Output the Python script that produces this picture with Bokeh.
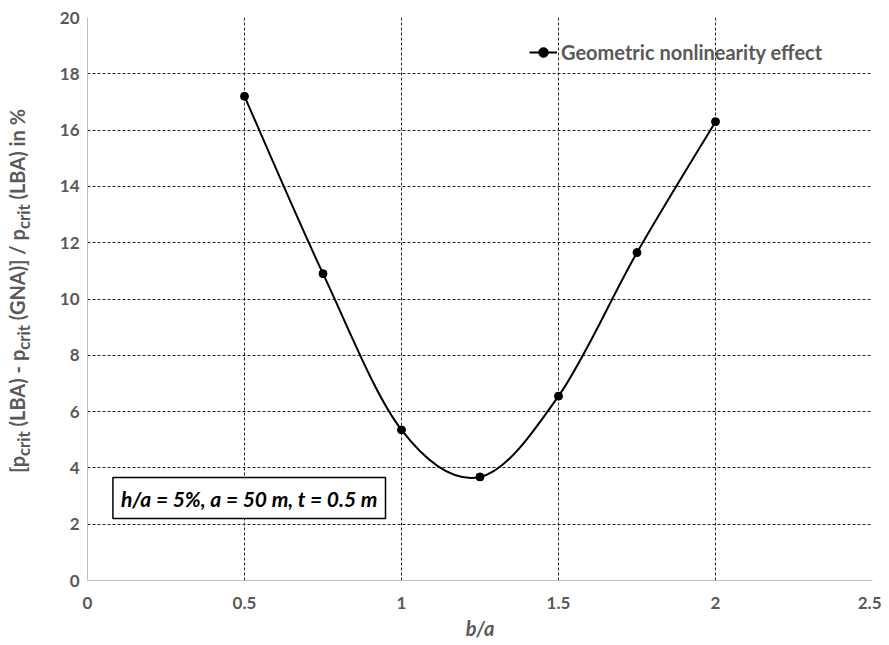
import numpy as np
from bokeh.plotting import figure
from bokeh.layouts import row
from bokeh.models import Range1d, FixedTicker, Label, Legend, LegendItem, ColumnDataSource, Div
from bokeh.embed import file_html
from bokeh.resources import INLINE

# ---- data ----
ratio = [0.5, 0.75, 1.0, 1.25, 1.5, 1.75, 2.0]
effect = [17.2, 10.9, 5.35, 3.68, 6.55, 11.65, 16.3]
x_ticks = [0, 0.5, 1, 1.5, 2, 2.5]
y_ticks = [0, 2, 4, 6, 8, 10, 12, 14, 16, 18, 20]
series_name = "Geometric nonlinearity effect"
note_text = "h/a = 5%, a = 50 m, t = 0.5 m"
x_title = "b/a"
y_title_html = "[p<sub>crit</sub> (LBA) - p<sub>crit</sub> (GNA)] / p<sub>crit</sub> (LBA) in %"

FONT = "Lato"
GRAY = "#595959"

DIV_W = 56
p = figure(width=825, height=645, output_backend="svg", toolbar_location=None,
           x_range=Range1d(0, 2.5), y_range=Range1d(0, 20),
           min_border_left=30, min_border_right=9, min_border_top=17, min_border_bottom=65)
p.outline_line_color = None
p.background_fill_color = "white"

for ax in (p.xaxis[0], p.yaxis[0]):
    ax.axis_line_color = "#bfbfbf"
    ax.axis_line_width = 1
    ax.major_tick_line_color = None
    ax.minor_tick_line_color = None
    ax.major_tick_out = 0
    ax.major_tick_in = 0
    ax.minor_tick_out = 0
    ax.major_label_text_font = FONT
    ax.major_label_text_font_style = "bold"
    ax.major_label_text_font_size = "17px"
    ax.major_label_text_color = GRAY

p.xaxis.ticker = FixedTicker(ticks=x_ticks)
p.yaxis.ticker = FixedTicker(ticks=y_ticks)
p.xaxis.major_label_standoff = 16
p.yaxis.major_label_standoff = 8
p.xaxis.major_label_overrides = {0: "0", 0.5: "0.5", 1: "1", 1.5: "1.5", 2: "2", 2.5: "2.5"}

p.xaxis.axis_label = x_title
p.xaxis.axis_label_text_font = FONT
p.xaxis.axis_label_text_font_style = "bold italic"
p.xaxis.axis_label_text_font_size = "20px"
p.xaxis.axis_label_text_color = GRAY
p.xaxis.axis_label_standoff = 4

for g in (p.xgrid[0], p.ygrid[0]):
    g.grid_line_color = "#262626"
    g.grid_line_dash = "3 2"
    g.grid_line_width = 1
p.xgrid.ticker = FixedTicker(ticks=x_ticks)
p.ygrid.ticker = FixedTicker(ticks=y_ticks)

# ---- smoothed curve (Excel-style cubic Bezier through the points) ----
xs = np.array(ratio, dtype=float)
ys = np.array(effect, dtype=float)
pxs = np.concatenate([[xs[0]], xs, [xs[-1]]])
pys = np.concatenate([[ys[0]], ys, [ys[-1]]])
n = len(xs)
seg = dict(x0=[], y0=[], x1=[], y1=[], cx0=[], cy0=[], cx1=[], cy1=[])
for i in range(n - 1):
    j = i + 1
    seg["x0"].append(pxs[j]); seg["y0"].append(pys[j])
    seg["x1"].append(pxs[j + 1]); seg["y1"].append(pys[j + 1])
    seg["cx0"].append(pxs[j] + (pxs[j + 1] - pxs[j - 1]) / 6)
    seg["cy0"].append(pys[j] + (pys[j + 1] - pys[j - 1]) / 6)
    seg["cx1"].append(pxs[j + 1] - (pxs[j + 2] - pxs[j]) / 6)
    seg["cy1"].append(pys[j + 1] - (pys[j + 2] - pys[j]) / 6)
bez = p.bezier(x0="x0", y0="y0", x1="x1", y1="y1", cx0="cx0", cy0="cy0", cx1="cx1", cy1="cy1",
               source=ColumnDataSource(seg), line_color="black", line_width=2)
dots = p.scatter(ratio, effect, size=8, fill_color="black", line_color="black")

legend = Legend(items=[LegendItem(label=series_name, renderers=[bez, dots])],
                location=(442, 516))
legend.border_line_color = None
legend.background_fill_alpha = 0
legend.padding = 0
legend.margin = 0
legend.glyph_width = 28
legend.glyph_height = 24
legend.label_standoff = 4
legend.label_text_font = FONT
legend.label_text_font_style = "bold"
legend.label_text_font_size = "20px"
legend.label_text_color = GRAY
p.add_layout(legend)

# ---- annotation box ----
note = Label(x=0.515, y=2.93, text=note_text, text_align="center", text_baseline="middle",
             text_font=FONT, text_font_style="bold italic", text_font_size="21px",
             text_color="black", border_line_color="black", border_line_width=1.5,
             background_fill_color="white", padding=8)
p.add_layout(note)

# ---- y-axis title with subscripts (rotated HTML text) ----
y_title = Div(width=DIV_W, height=645, margin=0, text=(
    '<div style="position:relative;width:%dpx;height:645px;">'
    '<div style="position:absolute;left:20px;top:291px;white-space:nowrap;'
    'transform:translate(-50%%,-50%%) rotate(-90deg);font-family:Lato;font-weight:bold;'
    'font-size:20px;color:%s;line-height:1;">%s</div></div>') % (DIV_W, GRAY, y_title_html))

layout = row(y_title, p, spacing=0)
open("out.html", "w").write(file_html(layout, INLINE))
